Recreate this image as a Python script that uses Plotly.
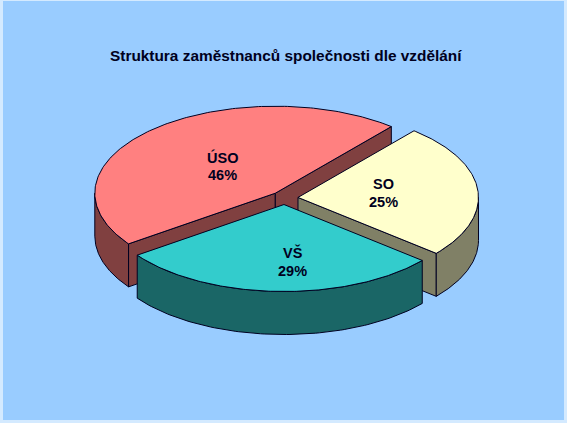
import numpy as np
import plotly.graph_objects as go

labels = ["SO", "VŠ", "ÚSO"]
shares = [25, 29, 46]
top_colors = ["#FFFFCC", "#33CCCC", "#FF8080"]
side_colors = ["#808066", "#1A6666", "#804040"]
title_text = "Struktura zaměstnanců společnosti dle vzdělání"

W, H = 567, 423
CX, CY, RX, RY, DEPTH = 284.5, 198, 180.5, 87, 43
EXPLODE, START = 0.075, -50.0
LINE = "#000020"
LABEL_NUDGE = {"SO": (-4, -1), "VŠ": (12, 14), "ÚSO": (9, 5)}
LINE_GAP = 9

fig = go.Figure()


def poly(x, y, color):
    fig.add_trace(go.Scatter(x=x, y=y, mode="lines", fill="toself", fillcolor=color,
                             line=dict(color=LINE, width=1), hoverinfo="skip", showlegend=False))


total = sum(shares)
start = START
geom = []
for lab, s, tc, sc in zip(labels, shares, top_colors, side_colors):
    span = 360.0 * s / total
    end = start + span
    mid = np.radians((start + end) / 2)
    ox = CX + EXPLODE * RX * np.cos(mid)
    oy = CY + EXPLODE * RY * np.sin(mid)
    geom.append((lab, s, tc, sc, start, end, ox, oy))
    start = end


def rim(ox, oy, a, b, n=90):
    t = np.radians(np.linspace(a, b, n))
    return ox + RX * np.cos(t), oy + RY * np.sin(t)


def cut_face(ox, oy, angle, color):
    px, py = rim(ox, oy, angle, angle, 1)
    poly([ox, px[0], px[0], ox, ox], [oy, py[0], py[0] + DEPTH, oy + DEPTH, oy], color)


def text_at(x, y, text, size):
    return dict(x=x, y=y, text=f"<b>{text}</b>", showarrow=False, xref="x", yref="y",
                font=dict(family="Liberation Sans", size=size, color="#000020"))


annotations = []
for lab, s, tc, sc, a, b, ox, oy in sorted(geom, key=lambda g: g[7]):
    if np.cos(np.radians(a)) < 0:
        cut_face(ox, oy, a, sc)
    if np.cos(np.radians(b)) > 0:
        cut_face(ox, oy, b, sc)
    lo, hi = max(a, 0), min(b, 180)
    if lo < hi:
        rx_, ry_ = rim(ox, oy, lo, hi)
        poly(np.r_[rx_, rx_[::-1], rx_[0]], np.r_[ry_, ry_[::-1] + DEPTH, ry_[0]], sc)
    rx_, ry_ = rim(ox, oy, a, b, 180)
    poly(np.r_[ox, rx_, ox], np.r_[oy, ry_, oy], tc)
    m = np.radians((a + b) / 2)
    dx, dy = LABEL_NUDGE[lab]
    lx = ox + 0.5 * RX * np.cos(m) + dx
    ly = oy + 0.5 * RY * np.sin(m) + dy
    annotations.append(text_at(lx, ly - LINE_GAP, lab, 14.5))
    annotations.append(text_at(lx, ly + LINE_GAP, f"{s}%", 14.5))

annotations.append(text_at(285.5, 55, title_text, 15.4))

fig.update_layout(
    width=W, height=H, margin=dict(l=0, r=0, t=0, b=0), autosize=False,
    paper_bgcolor="#D4EAFF", plot_bgcolor="#D4EAFF",
    xaxis=dict(range=[0, W], visible=False, fixedrange=True),
    yaxis=dict(range=[H, 0], visible=False, fixedrange=True),
    shapes=[dict(type="rect", xref="x", yref="y", x0=3, x1=564, y0=1, y1=420,
                 fillcolor="#99CCFF", line=dict(width=0), layer="below")],
    annotations=annotations,
)
fig.write_html("out.html", config=dict(displayModeBar=False),
               post_script="document.body.style.margin='0';document.documentElement.style.overflow='hidden';")
